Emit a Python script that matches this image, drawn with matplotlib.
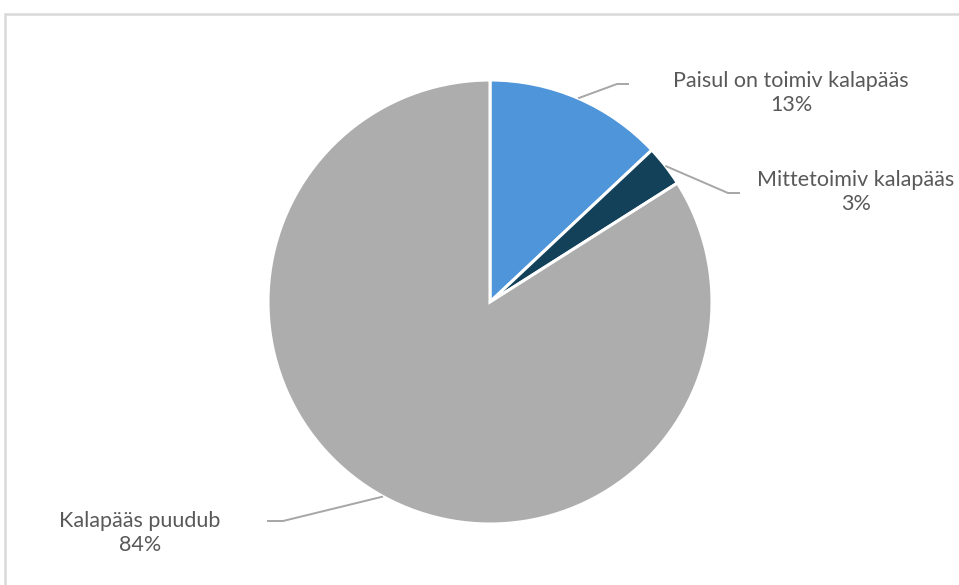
import numpy as np
import matplotlib.pyplot as plt
from matplotlib.patches import Rectangle

# Pie data
labels = ['Paisul on toimiv kalapääs', 'Mittetoimiv kalapääs', 'Kalapääs puudub']
shares = [13, 3, 84]
colors = ['#4E95D9', '#124159', '#ADADAD']

# label text centres (pixels, from top-left) and elbow offsets
label_pos = [(791, 93), (856, 192), (140, 533)]
elbow_pos = [(617, 84), (728, 193), (283, 521)]
end_x = [629, 740, 267]

W, H = 959, 585
fig = plt.figure(figsize=(W / 100, H / 100), dpi=100)
ax = fig.add_axes([0, 0, 1, 1])

cx, cy, r = 490, H - 302, 222
ax.pie(shares, colors=colors, startangle=90, counterclock=False,
       center=(cx, cy), radius=r,
       wedgeprops=dict(edgecolor='white', linewidth=2.2))
ax.set_xlim(0, W)
ax.set_ylim(0, H)
ax.set_aspect('equal')
ax.axis('off')

# leader lines from wedge mid angles
total = sum(shares)
cum = 0
for i, s in enumerate(shares):
    mid = (cum + s / 2) / total * 2 * np.pi
    cum += s
    x0 = cx + r * np.sin(mid)
    y0 = cy + r * np.cos(mid)
    ex, ey = elbow_pos[i]
    ax.plot([x0, ex, end_x[i]], [y0, H - ey, H - ey], color='#A6A6A6', lw=1.4,
            solid_capstyle='butt')
    lx, ly = label_pos[i]
    ax.text(lx, H - ly, f'{labels[i]}\n{s}%', ha='center', va='center',
            fontsize=15.5, color='#595959', family='Lato', linespacing=1.3)

# chart area border
fig.patches.append(Rectangle((5 / W, -0.05), 1.0, (H - 14) / H + 0.05,
                             transform=fig.transFigure, fill=False,
                             edgecolor='#D9D9D9', lw=1.8))

fig.savefig('out.png', dpi=100)
